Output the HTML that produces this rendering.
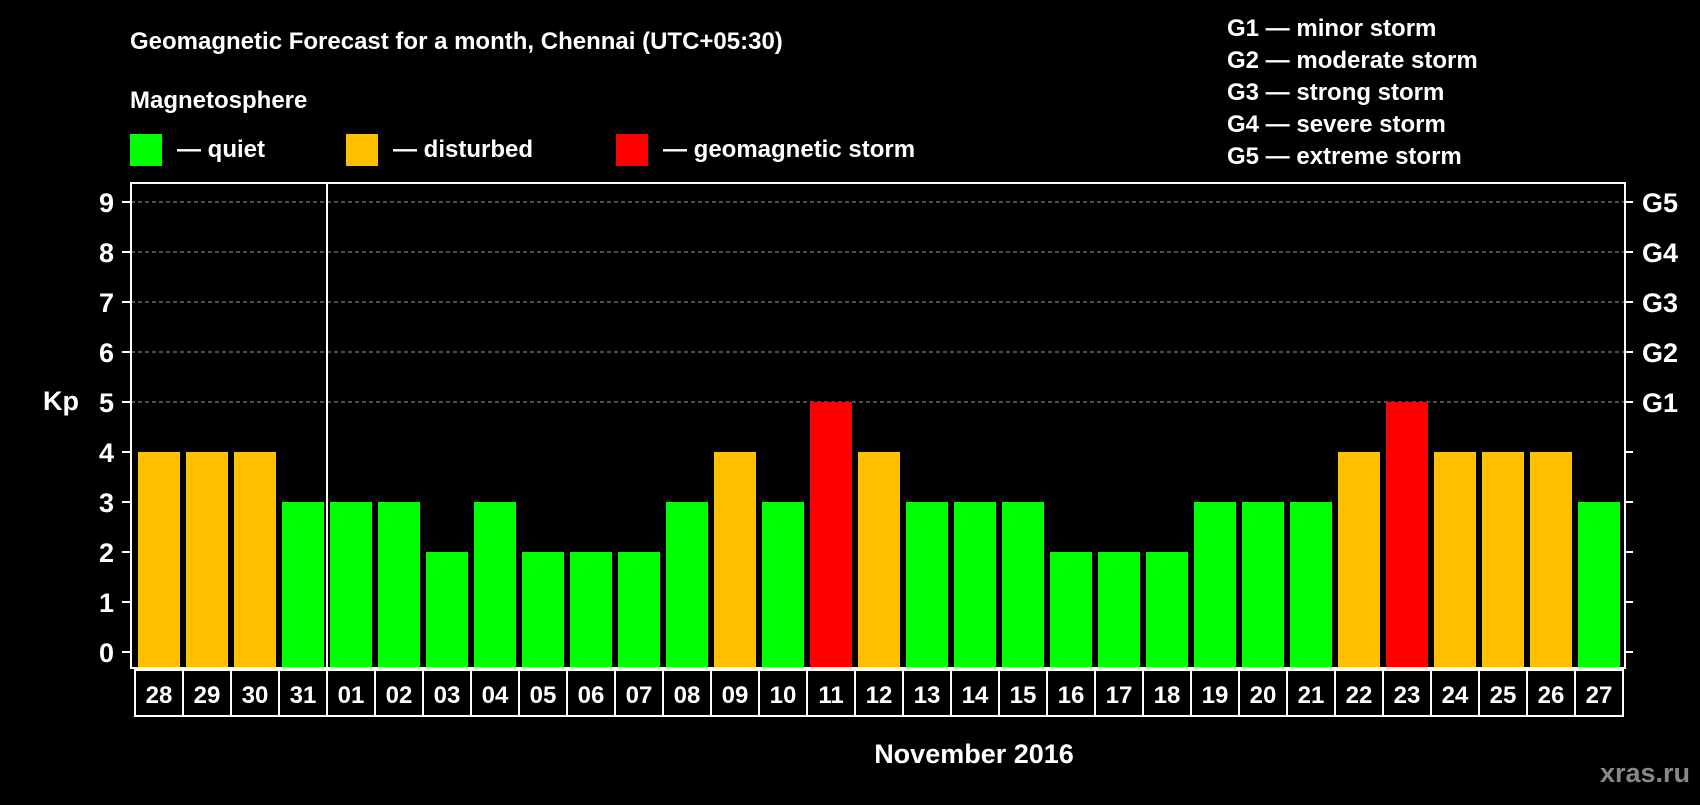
<!DOCTYPE html>
<html><head><meta charset="utf-8"><style>
body{margin:0;background:#000;width:1700px;height:800px;overflow:hidden}
svg text{font-family:"Liberation Sans",Arial,sans-serif;font-weight:bold;fill:#fff}
</style></head><body>
<svg id="c" width="1700" height="800" xmlns="http://www.w3.org/2000/svg">
<text x="130" y="49" font-size="24">Geomagnetic Forecast for a month, Chennai (UTC+05:30)</text>
<text x="130" y="108" font-size="24">Magnetosphere</text>
<rect x="130" y="134" width="32" height="32" fill="#00ff00"/>
<text x="177" y="157" font-size="24">— quiet</text>
<rect x="346" y="134" width="32" height="32" fill="#ffc000"/>
<text x="393" y="157" font-size="24">— disturbed</text>
<rect x="616" y="134" width="32" height="32" fill="#ff0000"/>
<text x="663" y="157" font-size="24">— geomagnetic storm</text>
<g font-size="24">
<text x="1227" y="36">G1 — minor storm</text>
<text x="1227" y="68">G2 — moderate storm</text>
<text x="1227" y="100">G3 — strong storm</text>
<text x="1227" y="132">G4 — severe storm</text>
<text x="1227" y="164">G5 — extreme storm</text>
</g>
<text x="43" y="410" font-size="27">Kp</text>
<text x="974" y="763" font-size="27" text-anchor="middle">November 2016</text>
<text x="1690" y="782" font-size="27" text-anchor="end" style="fill:#888">xras.ru</text>
<g id="plot"></g>
</svg>
<script>
const days=["28","29","30","31","01","02","03","04","05","06","07","08","09","10","11","12","13","14","15","16","17","18","19","20","21","22","23","24","25","26","27"];
const kp=[4,4,4,3,3,3,2,3,2,2,2,3,4,3,5,4,3,3,3,2,2,2,3,3,3,4,5,4,4,4,3];
const yTicks=[0,1,2,3,4,5,6,7,8,9];
const gLabels=["G1","G2","G3","G4","G5"];
const gLevels=[5,6,7,8,9];
const NS="http://www.w3.org/2000/svg";
const g=document.getElementById('plot');
const X0=138,PITCH=48,BW=42;
const y=v=>652-v*50;
const x=i=>X0+i*PITCH;
function mk(t,a){const e=document.createElementNS(NS,t);for(const k in a)e.setAttribute(k,a[k]);g.appendChild(e);return e;}
yTicks.forEach(v=>{
  if(v>=5){const l=mk('line',{x1:131,x2:1624,y1:y(v),y2:y(v),stroke:'#999','stroke-width':1,'stroke-dasharray':'4,3'});
  
  }
  const t1=mk('line',{x1:122,x2:130,y1:y(v),y2:y(v),stroke:'#fff','stroke-width':2});
  
  
  const t2=mk('line',{x1:1625,x2:1633,y1:y(v),y2:y(v),stroke:'#fff','stroke-width':2});
  
  
  const tx=mk('text',{x:114,y:y(v)+10,'font-size':27,'text-anchor':'end'});tx.textContent=v;
  
  
});
gLabels.forEach((s,i)=>{const t=mk('text',{x:1642,y:y(gLevels[i])+10,'font-size':27});t.textContent=s;
  
  });
kp.forEach((v,i)=>{
  const c=v>=5?'#ff0000':v>=4?'#ffc000':'#00ff00';
  const r=mk('rect',{x:x(i),y:y(v),width:BW,height:668-y(v),fill:c});
  
  
  const b=mk('rect',{x:x(i)-3,y:670,width:48,height:46,fill:'none',stroke:'#fff','stroke-width':2});
  
  
  const t=mk('text',{x:x(i)+21,y:703,'font-size':24,'text-anchor':'middle'});t.textContent=days[i];
  
  
});
const fr=mk('rect',{x:131,y:183,width:1494,height:485,fill:'none',stroke:'#fff','stroke-width':2});


const dv=mk('line',{x1:327,x2:327,y1:183,y2:668,stroke:'#fff','stroke-width':2});


</script>
</body></html>
